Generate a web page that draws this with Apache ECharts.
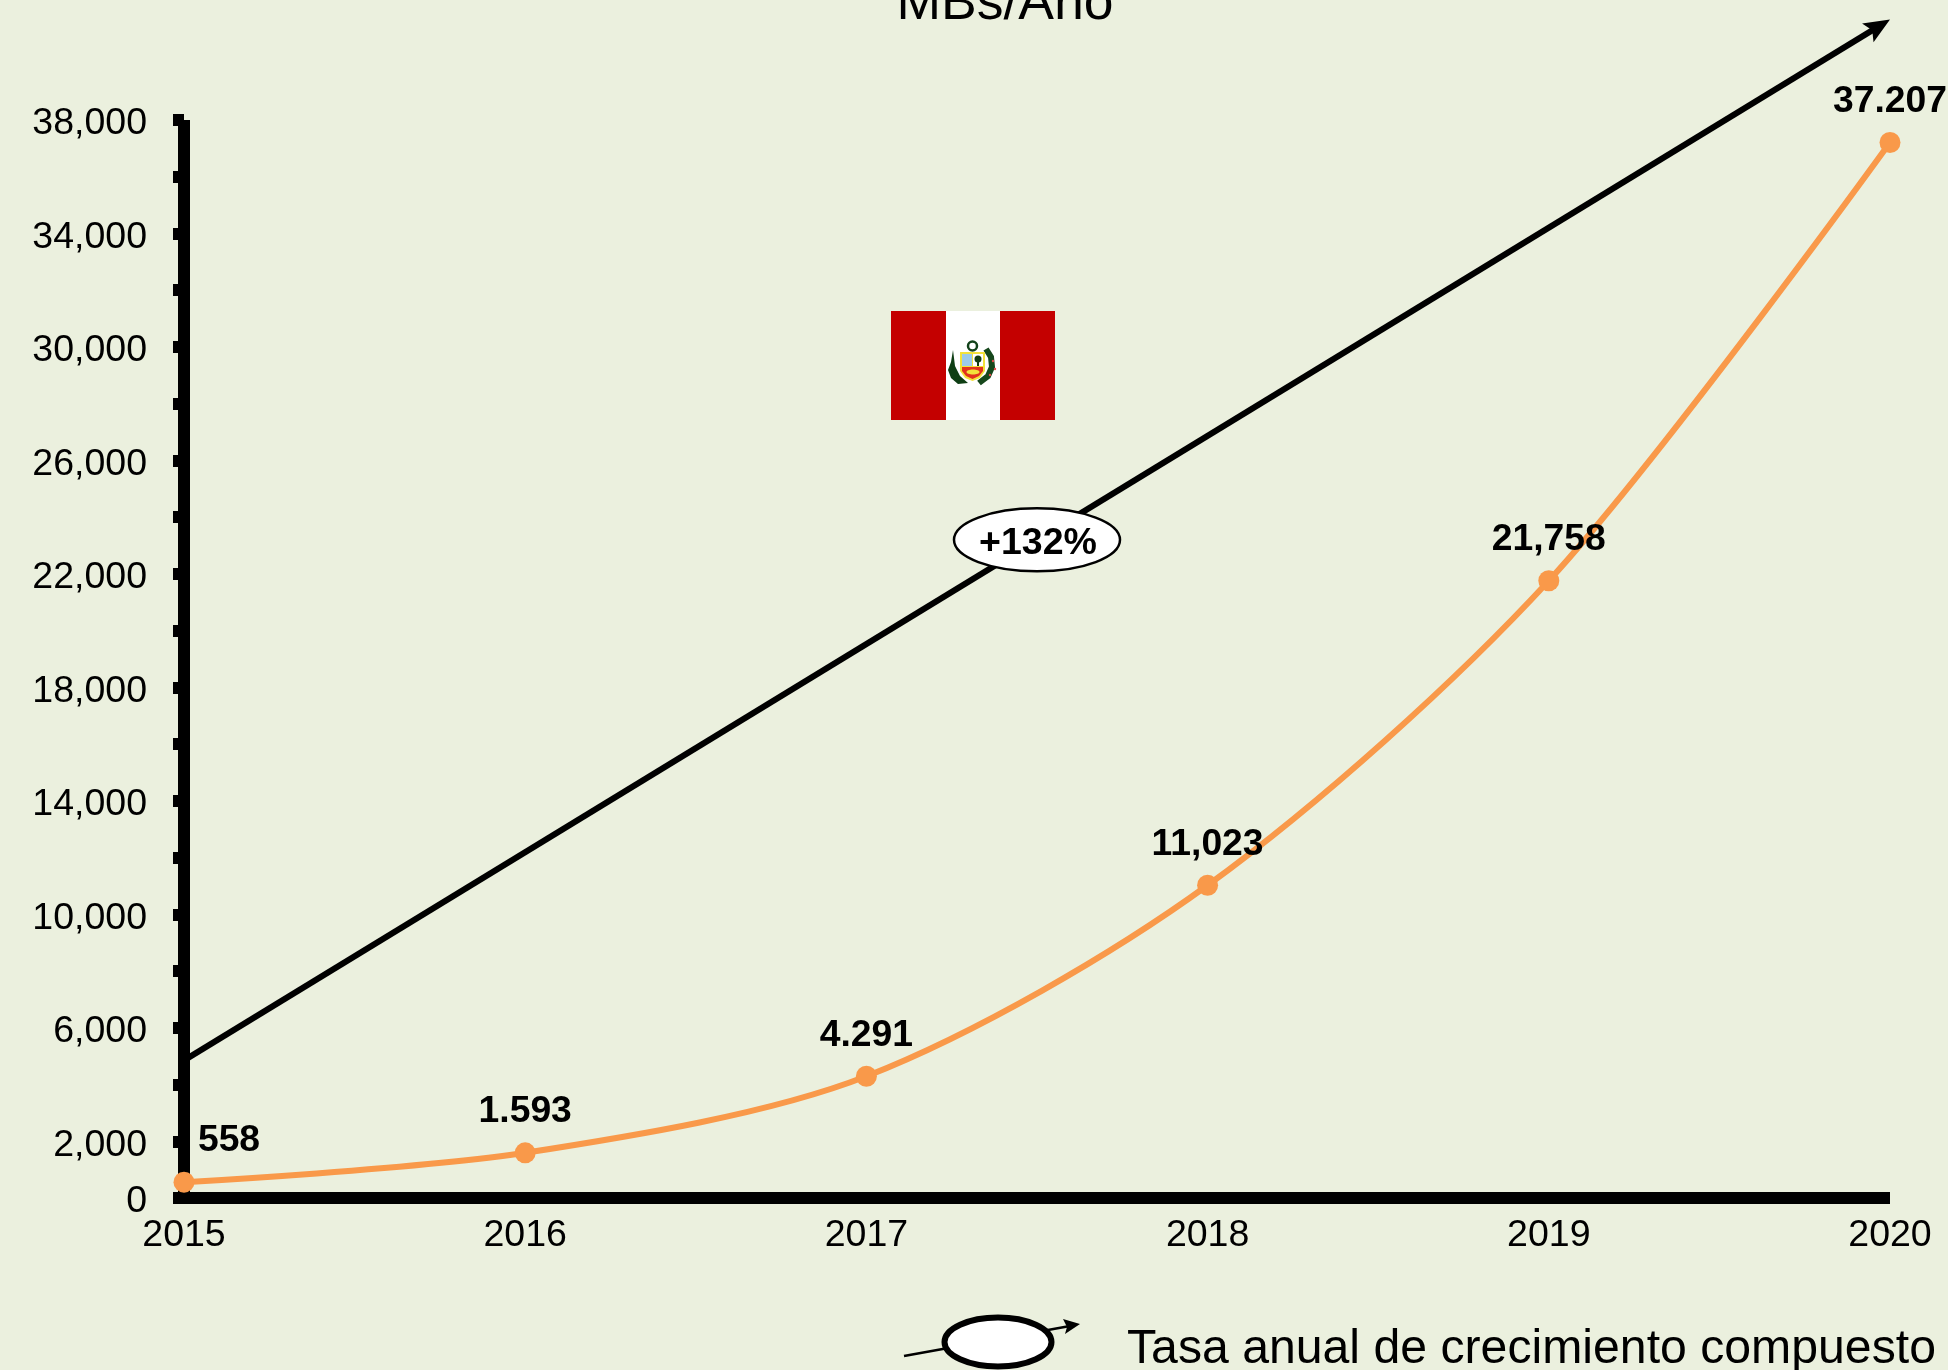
<!DOCTYPE html>
<html><head><meta charset="utf-8">
<style>html,body{margin:0;padding:0;background:#EBF0DE}#c{width:1948px;height:1370px}</style>
<script src="https://cdn.jsdelivr.net/npm/echarts@6/dist/echarts.min.js"></script>
</head><body><div id="c"></div>
<script>
const years = [2015, 2016, 2017, 2018, 2019, 2020];
const values = [558, 1593, 4291, 11023, 21758, 37207];
const pointLabels = ['558', '1.593', '4.291', '11,023', '21,758', '37.207'];
const trendFrom = [2015, 4851];
const trendTo = [2020, 41546];
const trendBubble = [2017.5, 23200];
const trendLabel = '+132%';
const titleText = 'MBs/Año';
const legendText = 'Tasa anual de crecimiento compuesto';

const FONT = '"Liberation Sans", Arial, sans-serif';
const BLACK = '#000';
const ORANGE = '#F9994A';
const labelOffsets = [[45, 0], [0, 0], [0, 0], [0, 0], [0, 0], [0, 0]];

function arrowHead(tip, back, len, halfW) {
  const dx = tip[0] - back[0], dy = tip[1] - back[1], d = Math.hypot(dx, dy);
  const ux = dx / d, uy = dy / d, bx = tip[0] - ux * len, by = tip[1] - uy * len;
  return [tip, [bx - uy * halfW, by + ux * halfW], [tip[0] - ux * len * 0.8, tip[1] - uy * len * 0.8], [bx + uy * halfW, by - ux * halfW]];
}

const chart = echarts.init(document.getElementById('c'), null, {renderer: 'canvas'});
chart.setOption({
  animation: false,
  backgroundColor: '#EBF0DE',
  textStyle: {fontFamily: FONT, color: BLACK},
  grid: {left: 184, right: 58, top: 120, bottom: 172, containLabel: false},
  title: {text: titleText, left: 1000, top: -28, textAlign: 'center',
    textStyle: {fontFamily: FONT, fontSize: 53.5, fontWeight: 'normal', color: BLACK}},
  xAxis: {
    type: 'value', min: 2015, max: 2020, interval: 1,
    splitLine: {show: false},
    axisLine: {show: true, lineStyle: {color: BLACK, width: 12, cap: 'butt'}},
    axisTick: {show: false},
    axisLabel: {fontFamily: FONT, fontSize: 37.5, color: BLACK, margin: 19, formatter: v => String(v), showMinLabel: true, showMaxLabel: true, hideOverlap: false}
  },
  yAxis: {
    type: 'value', min: 0, max: 38000, interval: 2000,
    splitLine: {show: false},
    axisLine: {show: true, lineStyle: {color: BLACK, width: 12, cap: 'butt'}},
    axisTick: {show: true, length: 11, lineStyle: {color: BLACK, width: 12}},
    axisLabel: {fontFamily: FONT, fontSize: 37.5, color: BLACK, margin: 37, hideOverlap: false,
      verticalAlign: 'top', padding: [-15, 0, 0, 0],
      formatter: v => (v === 0 || v % 4000 === 2000) ? v.toLocaleString('en-US') : ''}
  },
  series: [
    {
      type: 'custom', z: 3, clip: false, silent: true,
      data: [[trendFrom[0], trendFrom[1], trendTo[0], trendTo[1]]],
      encode: {x: [0, 2], y: [1, 3]},
      renderItem: (params, api) => {
        const a = api.coord(trendFrom), b = api.coord(trendTo), c = api.coord(trendBubble);
        return {type: 'group', children: [
          {type: 'line', shape: {x1: a[0], y1: a[1], x2: b[0] - 8, y2: b[1] + 5},
            style: {stroke: BLACK, lineWidth: 6, fill: null}},
          {type: 'polygon', shape: {points: arrowHead(b, a, 26, 11)}, style: {fill: BLACK}},
          {type: 'ellipse', shape: {cx: c[0], cy: c[1], rx: 83, ry: 31.5},
            style: {fill: '#fff', stroke: BLACK, lineWidth: 2.5}},
          {type: 'text', x: c[0] + 1, y: c[1] + 4, style: {text: trendLabel, x: 0, y: 0, align: 'center', verticalAlign: 'middle',
            fontFamily: FONT, fontSize: 37.5, fontWeight: 'bold', fill: BLACK}}
        ]};
      }
    },
    {
      type: 'line', z: 4, clip: false, smooth: 0.3,
      data: years.map((y, i) => ({
        value: [y, values[i]],
        label: {offset: labelOffsets[i]}
      })),
      symbol: 'circle', symbolSize: 21, showAllSymbol: true,
      lineStyle: {color: ORANGE, width: 6},
      itemStyle: {color: ORANGE},
      label: {show: true, position: 'top', distance: 12, fontFamily: FONT, fontSize: 37.3, fontWeight: 'bold', color: BLACK,
        formatter: p => pointLabels[p.dataIndex]}
    }
  ],
  graphic: [
    {type: 'rect', z: 5, shape: {x: 891, y: 311, width: 164, height: 109}, style: {fill: '#C40000'}},
    {type: 'rect', z: 6, shape: {x: 946, y: 311, width: 54, height: 109}, style: {fill: '#fff'}},
    // emblem
    {type: 'polygon', z: 7, shape: {points: [[951,362],[953,350],[955,366],[960,376],[968,383],[958,384],[951,378],[948,370]]}, style: {fill: '#0E3E14'}},
    {type: 'polyline', z: 7, shape: {points: [[986,349],[991,357],[992,367],[988,376],[979,383]]}, style: {fill: 'none', stroke: '#16471C', lineWidth: 6}},
    {type: 'circle', z: 8, shape: {cx: 993, cy: 361, r: 1.2}, style: {fill: '#E24B4B'}},
    {type: 'circle', z: 8, shape: {cx: 995, cy: 369, r: 1.2}, style: {fill: '#E24B4B'}},
    {type: 'circle', z: 8, shape: {cx: 990, cy: 375, r: 1.2}, style: {fill: '#E24B4B'}},
    {type: 'circle', z: 7, shape: {cx: 972.5, cy: 346, r: 4.5}, style: {fill: 'none', stroke: '#12421A', lineWidth: 2.5}},
    {type: 'polygon', z: 7, shape: {points: [[960,352],[985,352],[985,371],[980,378],[972.5,381],[965,378],[960,371]]}, style: {fill: '#F3E23A'}},
    {type: 'rect', z: 8, shape: {x: 962, y: 354, width: 10, height: 12}, style: {fill: '#9CCBEB'}},
    {type: 'rect', z: 8, shape: {x: 973, y: 354, width: 10, height: 12}, style: {fill: '#fff'}},
    {type: 'circle', z: 9, shape: {cx: 978, cy: 359, r: 3.5}, style: {fill: '#123D12'}},
    {type: 'rect', z: 9, shape: {x: 977, y: 360, width: 2, height: 6}, style: {fill: '#123D12'}},
    {type: 'polygon', z: 8, shape: {points: [[962,367],[983,367],[983,371],[979,376],[972.5,379],[966,376],[962,371]]}, style: {fill: '#E2321C'}},
    {type: 'ellipse', z: 9, shape: {cx: 973, cy: 372, rx: 6.5, ry: 2.5}, style: {fill: '#F3E23A'}},
    // legend key
    {type: 'line', z: 5, shape: {x1: 904, y1: 1356, x2: 1070, y2: 1326}, style: {stroke: BLACK, lineWidth: 2.5}},
    {type: 'polygon', z: 5, shape: {points: [[1080,1324],[1065,1334],[1067,1327],[1063,1319]]}, style: {fill: BLACK}},
    {type: 'ellipse', z: 6, shape: {cx: 998, cy: 1342, rx: 53.5, ry: 24.5}, style: {fill: '#fff', stroke: BLACK, lineWidth: 6}},
    {type: 'text', z: 6, x: 1127, y: 1350, style: {text: legendText, x: 0, y: 0, align: 'left', verticalAlign: 'middle', fontFamily: FONT, fontSize: 48.2, fill: BLACK}}
  ]
});
</script></body></html>
